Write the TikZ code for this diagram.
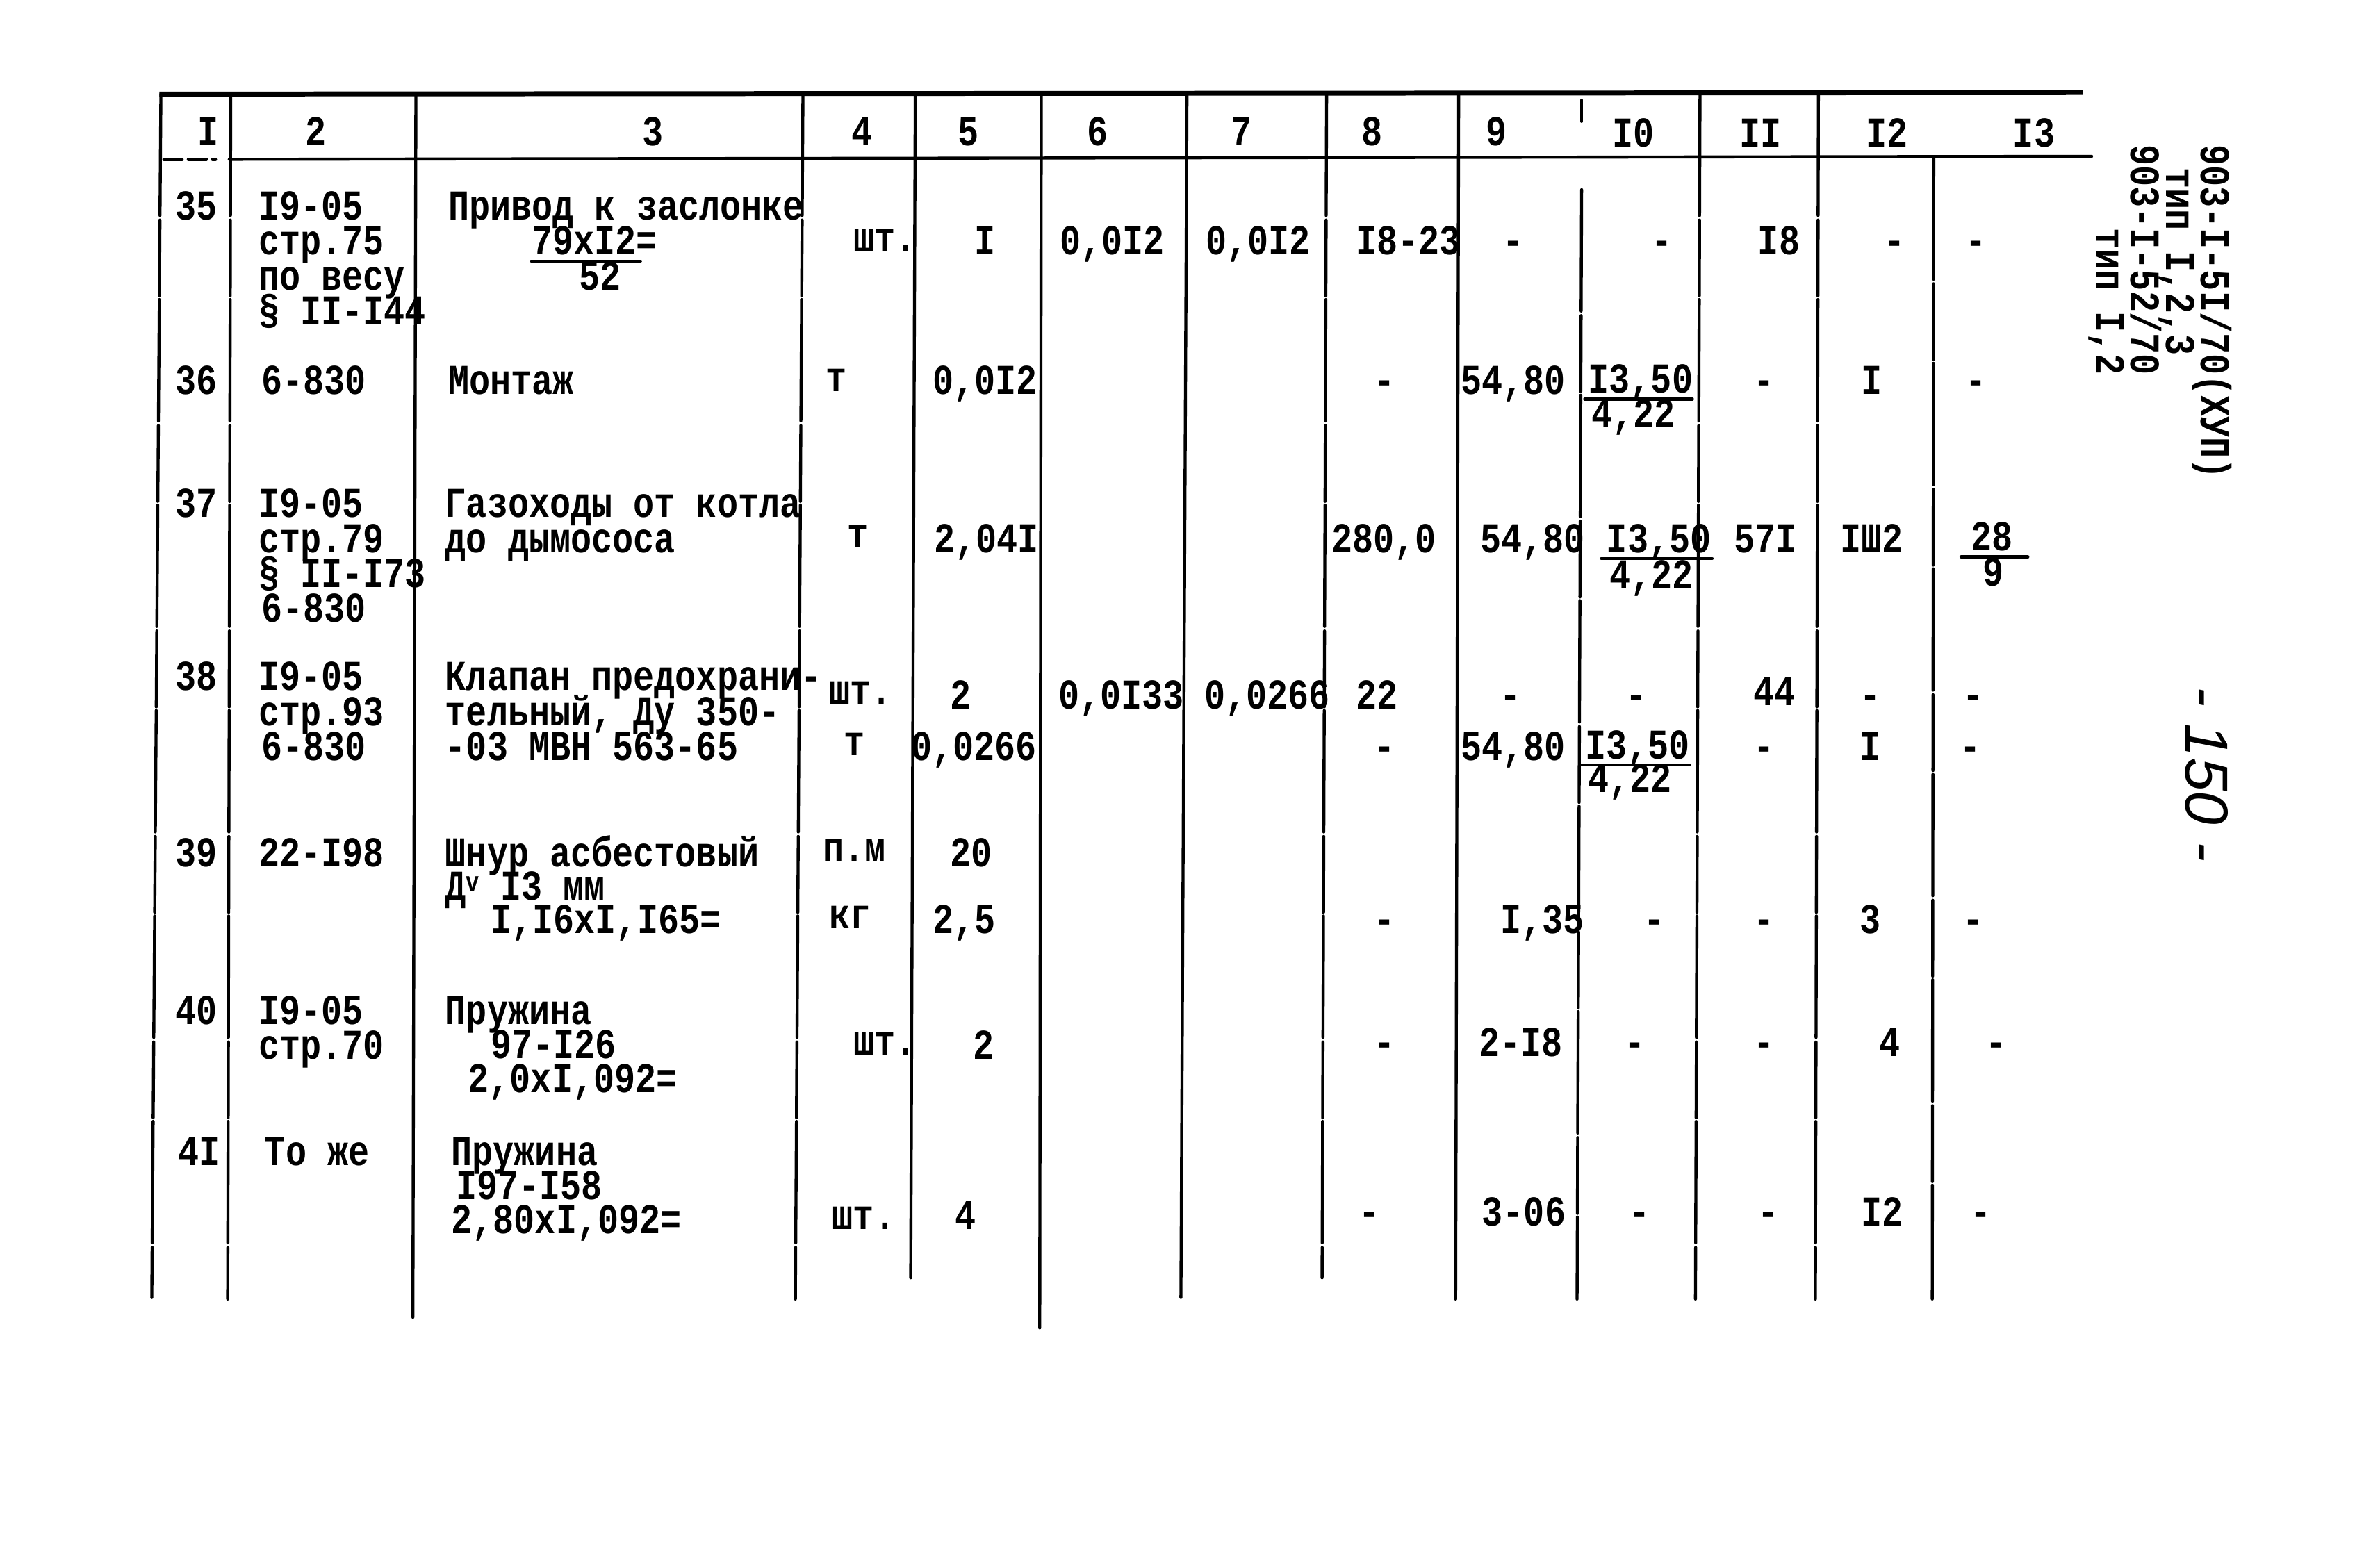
\documentclass[tikz,border=0pt]{standalone}
\usepackage{fontspec}
\newfontfamily\tw[FakeStretch=0.82]{Liberation Mono}
\newfontfamily\hw{Liberation Sans}
\newcommand\mlines[2][11.5pt]{\vtop{\baselineskip=#1\lineskiplimit=-100pt\lineskip=0pt\relax #2}}
\newcommand\lne[2][0pt]{\hbox{\kern#1#2}}
\begin{document}
\begin{tikzpicture}[x=0.5pt,y=-0.5pt,
  t/.style={font={\tw\bfseries\fontsize{14pt}{14pt}\selectfont},inner sep=0pt,anchor=base west},
  tc/.style={t,anchor=base},
  rt/.style={t,rotate=-90},
  rule/.style={line width=1pt,line cap=round},
  brk/.style={rule,dash pattern=on 40pt off 1.5pt on 25pt off 1.2pt},
  heavy/.style={line width=1.6pt}]
\fill[white] (0,0) rectangle (1568,1027);
\useasboundingbox (0,0) rectangle (1568,1027);

% ---- frame lines ----
\coordinate (tl) at (105,62); \coordinate (tr) at (1372,61);
\draw[heavy] (tl) -- (tr);
\coordinate (hl) at (151,105); \coordinate (hr) at (1378,103);
\draw[rule] (hl) -- (hr);
\coordinate (dl) at (108,105); \coordinate (dr) at (142,105);
\draw[rule,dash pattern=on 6pt off 2pt] (dl) -- (dr);

\coordinate (v0a) at (106,62);  \coordinate (v0b) at (100,855);
\coordinate (v1a) at (152,62);  \coordinate (v1b) at (150,856);
\coordinate (v2a) at (274,62);  \coordinate (v2b) at (272,868);
\coordinate (v3a) at (529,62);  \coordinate (v3b) at (524,856);
\coordinate (v4a) at (603,62);  \coordinate (v4b) at (600,842);
\coordinate (v5a) at (686,62);  \coordinate (v5b) at (685,875);
\coordinate (v6a) at (782,62);  \coordinate (v6b) at (778,855);
\coordinate (v7a) at (874,62);  \coordinate (v7b) at (871,842);
\coordinate (v8a) at (961,62);  \coordinate (v8b) at (959,856);
\coordinate (v9a) at (1042,66); \coordinate (v9m) at (1042,80);
\coordinate (v9c) at (1042,125);\coordinate (v9b) at (1039,856);
\coordinate (v10a) at (1120,62);\coordinate (v10b) at (1117,856);
\coordinate (v11a) at (1198,62);\coordinate (v11b) at (1196,856);
\coordinate (v12a) at (1274,104);\coordinate (v12b) at (1273,856);
\draw[brk] (v0a) -- (v0b);
\draw[brk] (v1a) -- (v1b);
\draw[rule] (v2a) -- (v2b);
\draw[brk] (v3a) -- (v3b);
\draw[rule] (v4a) -- (v4b);
\draw[rule] (v5a) -- (v5b);
\draw[rule] (v6a) -- (v6b);
\draw[brk] (v7a) -- (v7b);
\draw[rule] (v8a) -- (v8b);
\draw[brk] (v9a) -- (v9m);
\draw[brk] (v9c) -- (v9b);
\draw[brk] (v10a) -- (v10b);
\draw[brk] (v11a) -- (v11b);
\draw[brk] (v12a) -- (v12b);

% ---- header ----
\node[tc] (h1) at (137,96) {I};
\node[tc] (h2) at (208,96) {2};
\node[tc] (h3) at (430,96) {3};
\node[tc] (h4) at (568,96) {4};
\node[tc] (h5) at (638,96) {5};
\node[tc] (h6) at (723,96) {6};
\node[tc] (h7) at (818,96) {7};
\node[tc] (h8) at (904,96) {8};
\node[tc] (h9) at (986,96) {9};
\node[tc] (h10) at (1076,97) {I0};
\node[tc] (h11) at (1160,97) {II};
\node[tc] (h12) at (1243,97) {I2};
\node[tc] (h13) at (1340,97) {I3};

% ---- row 35 ----
\node[t] (a35) at (115,145) {35};
\node[t] (b35) at (170,145) {\mlines{\lne{I9-05}\lne{стр.75}\lne{по весу}\lne{§ II-I44}}};
\node[t] (c35) at (295,145) {\mlines{\lne{Привод к заслонке}\lne[27.5pt]{79xI2=}\lne[43pt]{52}}};
\coordinate (u35a) at (350,172); \coordinate (u35b) at (422,172);
\draw[rule] (u35a) -- (u35b);
\node[t] (d35) at (562,166) {шт.};
\node[tc] (e35) at (649,168) {I};
\node[t] (f35) at (698,168) {0,0I2};
\node[t] (g35) at (794,168) {0,0I2};
\node[t] (k35) at (893,168) {I8-23};
\node[tc] (l35) at (997,168) {-};
\node[tc] (m35) at (1095,168) {-};
\node[tc] (n35) at (1172,168) {I8};
\node[tc] (o35) at (1248,168) {-};
\node[tc] (p35) at (1302,168) {-};

% ---- row 36 ----
\node[t] (a36) at (115,260) {36};
\node[t] (b36) at (172,260) {6-830};
\node[t] (c36) at (295,260) {Монтаж};
\node[tc] (d36) at (551,258) {т};
\node[t] (e36) at (614,260) {0,0I2};
\node[tc] (k36) at (912,260) {-};
\node[t] (l36) at (962,260) {54,80};
\node[t] (m36) at (1046,259) {\mlines{\lne{I3,50}\lne[1pt]{4,22}}};
\coordinate (f36a) at (1044,263); \coordinate (f36b) at (1115,263);
\draw[rule] (f36a) -- (f36b);
\node[tc] (n36) at (1162,260) {-};
\node[tc] (o36) at (1233,260) {I};
\node[tc] (p36) at (1302,260) {-};

% ---- row 37 ----
\node[t] (a37) at (115,341) {37};
\node[t] (b37) at (170,341) {\mlines{\lne{I9-05}\lne{стр.79}\lne{§ II-I73}\lne[1pt]{6-830}}};
\node[t] (c37) at (293,341) {\mlines{\lne{Газоходы от котла}\lne{до дымососа}}};
\node[tc] (d37) at (565,361) {т};
\node[t] (e37) at (615,364) {2,04I};
\node[t] (k37) at (877,364) {280,0};
\node[t] (l37) at (975,364) {54,80};
\node[t] (m37) at (1058,364) {\mlines[12pt]{\lne{I3,50}\lne[1pt]{4,22}}};
\coordinate (f37a) at (1055,368); \coordinate (f37b) at (1128,368);
\draw[rule] (f37a) -- (f37b);
\node[t] (n37) at (1142,364) {57I};
\node[t] (o37) at (1212,364) {IШ2};
\node[t] (p37) at (1298,363) {\mlines{\lne{28}\lne[4pt]{9}}};
\coordinate (f37c) at (1292,367); \coordinate (f37d) at (1336,367);
\draw[rule] (f37c) -- (f37d);

% ---- row 38 ----
\node[t] (a38) at (115,455) {38};
\node[t] (b38) at (170,455) {\mlines{\lne{I9-05}\lne{стр.93}\lne[1pt]{6-830}}};
\node[t] (c38) at (293,455) {\mlines{\lne{Клапан предохрани-}\lne{тельный, Ду 350-}\lne{-03 МВН 563-65}}};
\node[t] (d38a) at (546,464) {шт.};
\node[tc] (d38b) at (563,498) {т};
\node[tc] (e38a) at (633,467) {2};
\node[t] (e38b) at (600,501) {0,0266};
\node[t] (f38) at (697,467) {0,0I33};
\node[t] (g38) at (793,467) {0,0266};
\node[t] (k38a) at (893,467) {22};
\node[tc] (k38b) at (912,501) {-};
\node[tc] (l38a) at (995,467) {-};
\node[t] (l38b) at (962,501) {54,80};
\node[tc] (m38x) at (1078,467) {-};
\node[t] (m38) at (1044,500) {\mlines[11pt]{\lne{I3,50}\lne[1pt]{4,22}}};
\coordinate (f38a) at (1042,504); \coordinate (f38b) at (1113,504);
\draw[rule] (f38a) -- (f38b);
\node[tc] (n38a) at (1169,465) {44};
\node[tc] (n38b) at (1162,501) {-};
\node[tc] (o38a) at (1232,467) {-};
\node[tc] (o38b) at (1232,501) {I};
\node[tc] (p38a) at (1300,467) {-};
\node[tc] (p38b) at (1298,501) {-};

% ---- row 39 ----
\node[t] (a39) at (115,571) {39};
\node[t] (b39) at (170,571) {22-I98};
\node[t] (c39) at (293,571) {\mlines[11pt]{\lne{Шнур асбестовый}\lne{Д\raisebox{3pt}{\fontsize{9pt}{9pt}\selectfont v} I3 мм}\lne[15pt]{I,I6xI,I65=}}};
\node[t] (d39a) at (542,568) {п.м};
\node[t] (d39b) at (546,612) {кг};
\node[tc] (e39a) at (640,571) {20};
\node[t] (e39b) at (614,615) {2,5};
\node[tc] (k39) at (912,615) {-};
\node[t] (l39) at (988,615) {I,35};
\node[tc] (m39) at (1090,615) {-};
\node[tc] (n39) at (1162,615) {-};
\node[tc] (o39) at (1232,615) {3};
\node[tc] (p39) at (1300,615) {-};

% ---- row 40 ----
\node[t] (a40) at (115,675) {40};
\node[t] (b40) at (170,675) {\mlines{\lne{I9-05}\lne{стр.70}}};
\node[t] (c40) at (293,675) {\mlines[11.25pt]{\lne{Пружина}\lne[15pt]{97-I26}\lne[7.5pt]{2,0xI,092=}}};
\node[t] (d40) at (562,695) {шт.};
\node[tc] (e40) at (648,698) {2};
\node[tc] (k40) at (912,696) {-};
\node[t] (l40) at (974,696) {2-I8};
\node[tc] (m40) at (1077,696) {-};
\node[tc] (n40) at (1162,696) {-};
\node[tc] (o40) at (1245,696) {4};
\node[tc] (p40) at (1315,696) {-};

% ---- row 41 ----
\node[t] (a41) at (117,768) {4I};
\node[t] (b41) at (174,768) {То же};
\node[t] (c41) at (297,768) {\mlines[11.25pt]{\lne{Пружина}\lne[1.5pt]{I97-I58}\lne{2,80xI,092=}}};
\node[t] (d41) at (548,810) {шт.};
\node[tc] (e41) at (636,810) {4};
\node[tc] (k41) at (902,808) {-};
\node[t] (l41) at (976,808) {3-06};
\node[tc] (m41) at (1080,808) {-};
\node[tc] (n41) at (1165,808) {-};
\node[tc] (o41) at (1240,808) {I2};
\node[tc] (p41) at (1305,808) {-};

% ---- margin note (rotated) ----
\node[rt] (s1) at (1450,95) {\mlines[11.5pt]{\lne{903-I-5I/70(XУП)}\lne[7.5pt]{тип I,2,3}\lne{903-I-52/70}\lne[27.5pt]{тип I,2}}};
\node[font={\hw\itshape\fontsize{20pt}{20pt}\selectfont},inner sep=0pt,anchor=base west,rotate=-90] (pg) at (1440,452) {- 150 -};
\end{tikzpicture}
\end{document}
